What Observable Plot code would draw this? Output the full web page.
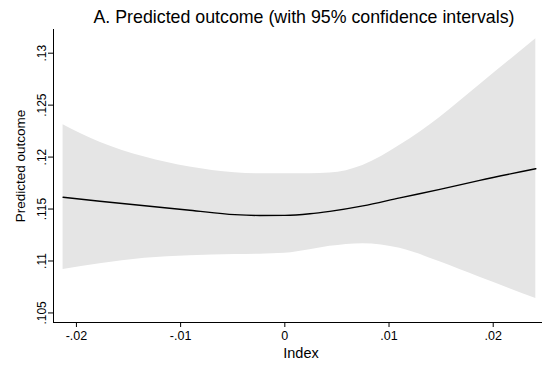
<!DOCTYPE html>
<html>
<head>
<meta charset="utf-8">
<script src="https://cdn.jsdelivr.net/npm/d3@7"></script>
<script src="https://cdn.jsdelivr.net/npm/@observablehq/plot@0.6"></script>
<style>
  html, body { margin: 0; padding: 0; background: #fff; }
  #chart { width: 542px; font-family: "Liberation Sans", Arial, Helvetica, sans-serif; }
  .title { height: 29px; box-sizing: border-box; padding-top: 7px; padding-left: 66px; text-align: center;
           font-size: 17.8px; line-height: 20px; color: #000; white-space: nowrap; }
  svg { display: block; }
</style>
</head>
<body>
<div id="chart">
  <div class="title">A. Predicted outcome (with 95% confidence intervals)</div>
</div>
<script>
// Index values at which the prediction is evaluated
const index = [-0.02128, -0.01775, -0.01344, -0.00912, -0.0048, -0.0024, 0, 0.0024, 0.00432, 0.00749, 0.01104, 0.01488, 0.01871, 0.02409];
// Predicted outcome
const predicted = [0.11613, 0.11575, 0.11531, 0.11489, 0.11446, 0.11438, 0.11439, 0.11454, 0.11478, 0.11531, 0.11608, 0.11689, 0.11776, 0.11888];
// 95% confidence bounds
const lower = [0.10917, 0.10973, 0.11026, 0.11050, 0.11062, 0.11066, 0.11074, 0.11108, 0.11141, 0.11167, 0.11122, 0.10992, 0.10843, 0.10639];
const upper = [0.12312, 0.12144, 0.12000, 0.11904, 0.11850, 0.11840, 0.11839, 0.11840, 0.11846, 0.11920, 0.12113, 0.12382, 0.12696, 0.13138];

const xTicks = [-0.02, -0.01, 0, 0.01, 0.02];
const xTickLabels = ["-.02", "-.01", "0", ".01", ".02"];
const yTicks = [0.105, 0.11, 0.115, 0.12, 0.125, 0.13];
const yTickLabels = [".105", ".11", ".115", ".12", ".125", ".13"];

const rows = index.map((x, i) => ({x, y: predicted[i], lo: lower[i], hi: upper[i]}));

const chart = Plot.plot({
  width: 542,
  height: 338,
  marginTop: 0,
  marginRight: 0,
  marginBottom: 45,
  marginLeft: 53,
  style: {fontFamily: '"Liberation Sans", Arial, Helvetica, sans-serif', fontSize: "12px", color: "#000", background: "#fff"},
  x: {domain: [-0.0222, 0.02473]},
  y: {domain: [0.10408, 0.13228]},
  marks: [
    Plot.areaY(rows, {x: "x", y1: "lo", y2: "hi", fill: "#e5e5e5", curve: "monotone-x"}),
    Plot.lineY(rows, {x: "x", y: "y", stroke: "#000", strokeWidth: 1.4, curve: "monotone-x"}),
    Plot.ruleX([-0.0222], {stroke: "#000", strokeWidth: 1}),
    Plot.ruleY([0.10408], {stroke: "#000", strokeWidth: 1}),
    Plot.axisX({
      ticks: xTicks,
      tickFormat: (d, i) => xTickLabels[i],
      tickSize: 5,
      tickPadding: 4,
      fontSize: 12.5,
      label: null
    }),
    Plot.text(["Index"], {
      frameAnchor: "bottom",
      dx: 3,
      dy: 35,
      fontSize: 14.5,
      text: d => d
    }),
    Plot.axisY({
      ticks: yTicks,
      tickFormat: (d, i) => yTickLabels[i],
      tickSize: 5,
      tickPadding: 3,
      tickRotate: -90,
      fontSize: 12,
      label: null
    }),
    Plot.text(["Predicted outcome"], {
      frameAnchor: "left",
      textAnchor: "middle",
      dx: -33,
      dy: -10,
      rotate: -90,
      fontSize: 13.5,
      text: d => d
    })
  ]
});

document.getElementById("chart").appendChild(chart);
</script>
</body>
</html>
